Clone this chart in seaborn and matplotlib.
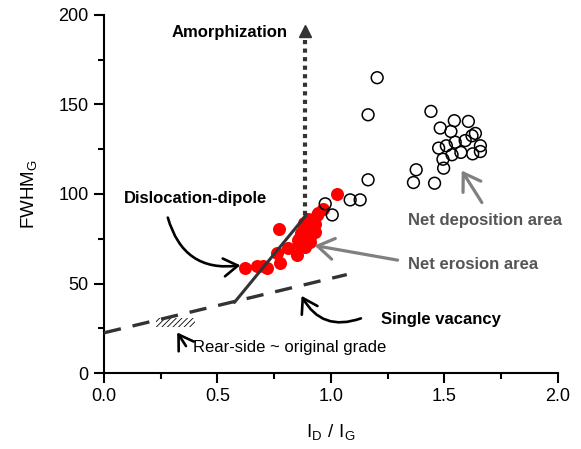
import numpy as np
import pandas as pd
import matplotlib
matplotlib.use("Agg")
import matplotlib.pyplot as plt
import seaborn as sns
from matplotlib.patches import Rectangle

# ---------------- data ----------------
red_x = [1.026, 0.773, 0.622, 0.673, 0.718, 0.776, 0.809, 0.762, 0.850,
         0.945, 0.967, 0.923, 0.894, 0.865, 0.909, 0.879, 0.857, 0.901,
         0.931, 0.887, 0.700, 0.880, 0.910, 0.870, 0.890, 0.920, 0.880,
         0.860, 0.940, 0.900, 0.930]
red_y = [99.9, 80.7, 58.9, 59.8, 58.5, 61.3, 69.7, 66.9, 66.0,
         89.3, 91.5, 85.5, 79.9, 76.2, 76.2, 71.5, 74.3, 82.7,
         79.0, 70.6, 60.0, 84.0, 73.0, 78.0, 75.0, 80.0, 82.0,
         72.0, 88.0, 86.0, 83.0]

open_x = [1.204, 1.164, 1.164, 1.085, 1.129, 0.975, 1.006,
          1.441, 1.544, 1.606, 1.482, 1.529, 1.637, 1.622, 1.592, 1.548,
          1.659, 1.475, 1.509, 1.573, 1.534, 1.625, 1.659, 1.494, 1.497,
          1.376, 1.364, 1.457]
open_y = [164.9, 144.2, 107.9, 96.7, 96.7, 94.5, 88.3,
          146.1, 140.9, 140.5, 136.8, 134.9, 133.8, 132.5, 129.8, 128.9,
          126.9, 125.6, 126.9, 123.2, 121.9, 122.4, 123.7, 119.4, 114.4,
          113.5, 106.4, 106.0]

# model lines
vac_x = [0.0, 1.07]            # single vacancy (dashed)
vac_y = [22.5, 55.0]
dip_x = [0.575, 0.89]          # dislocation dipole (solid)
dip_y = [39.5, 88.0]
amo_x = [0.887, 0.887]         # amorphization (dotted)
amo_y = [88.0, 186.0]
amo_head = (0.887, 191.0)

rear_box = (0.23, 26.0, 0.17, 5.0)   # x, y, width, height

x_ticks = [0.0, 0.5, 1.0, 1.5, 2.0]
x_tick_labels = ["0.0", "0.5", "1.0", "1.5", "2.0"]
y_ticks = [0, 50, 100, 150, 200]
y_tick_labels = ["0", "50", "100", "150", "200"]

# ---------------- style ----------------
sns.set_theme(style="ticks")
plt.rcParams["font.family"] = ["Liberation Sans", "DejaVu Sans"]
plt.rcParams["mathtext.fontset"] = "custom"
plt.rcParams["mathtext.rm"] = "Liberation Sans"
plt.rcParams["hatch.linewidth"] = 0.6

fig = plt.figure(figsize=(5.81, 4.49), dpi=100)
ax = fig.add_axes([0.179, 0.169, 0.781, 0.798])

red_df = pd.DataFrame({"x": red_x, "y": red_y})
open_df = pd.DataFrame({"x": open_x, "y": open_y})

sns.scatterplot(data=red_df, x="x", y="y", ax=ax, color="#ff0000",
                edgecolor="#ff0000", s=88, linewidth=0, zorder=3)
sns.scatterplot(data=open_df, x="x", y="y", ax=ax, color="black",
                facecolors="none", edgecolor="black", s=72, linewidth=1.1,
                zorder=3)

dark = "#333333"
ax.plot(vac_x, vac_y, color=dark, lw=2.4, linestyle=(0, (5.2, 3.6)),
        zorder=4, solid_capstyle="butt")
ax.plot(dip_x, dip_y, color=dark, lw=2.2, zorder=4)
ax.plot(amo_x, amo_y, color=dark, lw=3.0, linestyle=(0, (1, 1.05)), zorder=4)
ax.plot([amo_head[0]], [amo_head[1]], marker="^", ms=8, color=dark,
        zorder=4, clip_on=False)

ax.add_patch(Rectangle(rear_box[:2], rear_box[2], rear_box[3],
                       facecolor="none", edgecolor="black", hatch="//////",
                       linewidth=0, zorder=2))

# ---------------- annotations ----------------
bold = dict(fontsize=12, fontweight="bold")
ax.text(0.807, 190, "Amorphization", ha="right", va="center",
        color="black", **bold)
ax.text(0.088, 97.5, "Dislocation-dipole", ha="left", va="center",
        color="black", **bold)
ax.text(1.222, 30.2, "Single vacancy", ha="left", va="center",
        color="black", **bold)
ax.text(0.394, 14.5, "Rear-side ~ original grade", ha="left", va="center",
        fontsize=12, color="black")
ax.text(1.339, 60.9, "Net erosion area", ha="left", va="center",
        color="#555555", **bold)
ax.text(1.339, 85.1, "Net deposition area", ha="left", va="center",
        color="#555555", **bold)

blk = dict(arrowstyle="->,head_length=0.6,head_width=0.38",
           color="black", lw=1.9, mutation_scale=17)
ax.annotate("", xy=(0.613, 60.4), xytext=(0.278, 88.3),
            arrowprops=dict(connectionstyle="arc3,rad=0.45", **blk))
ax.annotate("", xy=(0.865, 44.5), xytext=(1.144, 31.1),
            arrowprops=dict(connectionstyle="arc3,rad=-0.45", **blk))
ax.annotate("", xy=(0.316, 24.0), xytext=(0.368, 13.8),
            arrowprops=dict(**blk))

gry = dict(arrowstyle="->,head_length=0.65,head_width=0.42",
           color="#808080", lw=2.3, mutation_scale=18)
ax.annotate("", xy=(0.916, 71.5), xytext=(1.306, 62.8), arrowprops=gry)
ax.annotate("", xy=(1.570, 114.4), xytext=(1.672, 93.9), arrowprops=gry)

# ---------------- axes ----------------
ax.set_xlim(0, 2.0)
ax.set_ylim(0, 200)
ax.set_xticks(x_ticks)
ax.set_xticklabels(x_tick_labels)
ax.set_yticks(y_ticks)
ax.set_yticklabels(y_tick_labels)
ax.set_xticks([0.25, 0.75, 1.25, 1.75], minor=True)
ax.set_yticks([25, 75, 125, 175], minor=True)
ax.tick_params(axis="both", which="major", length=7, width=1.5,
               labelsize=13, pad=4, colors="black")
ax.tick_params(axis="both", which="minor", length=4, width=1.5,
               colors="black")
ax.set_xlabel(r"$\mathregular{I_D\ /\ I_G}$", fontsize=13.5, labelpad=12,
              color="black")
ax.set_ylabel(r"$\mathregular{FWHM_G}$", fontsize=13.5, labelpad=14,
              color="black")
sns.despine(ax=ax)
for s in ("left", "bottom"):
    ax.spines[s].set_linewidth(1.5)
    ax.spines[s].set_color("black")

fig.savefig("out.png", dpi=100)
